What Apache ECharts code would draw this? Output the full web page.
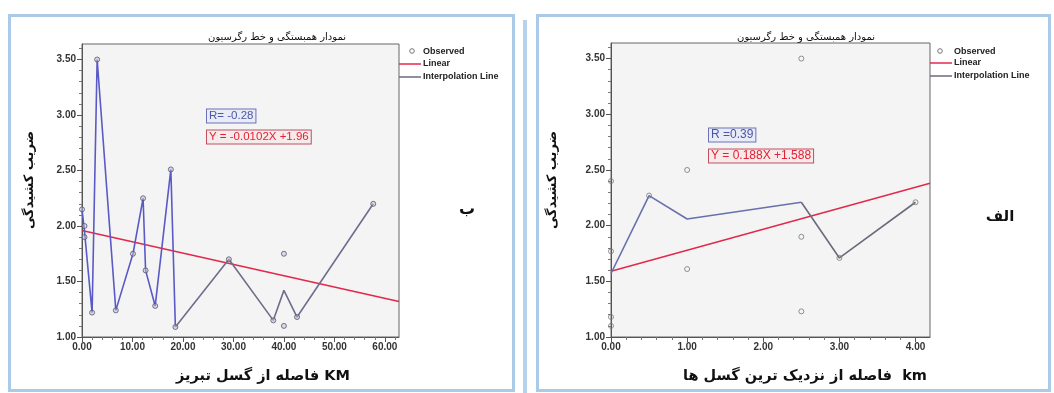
<!DOCTYPE html>
<html><head><meta charset="utf-8">
<script src="https://cdn.jsdelivr.net/npm/echarts@6/dist/echarts.min.js"></script>
<style>html,body{margin:0;padding:0;background:#fff}#c{width:1054px;height:393px}</style>
</head><body><div id="c"></div>
<script>
// ---- texts ----
const chartTitle = 'نمودار همبستگی و خط رگرسیون';
const yAxisName = 'ضریب کشیدگی';
const leftXAxisName = 'فاصله از گسل تبریز KM';
const rightXAxisName = 'فاصله از نزدیک ترین گسل ها  km';
const legendNames = ['Observed', 'Linear', 'Interpolation Line'];
const leftPanelLabel = 'ب';
const rightPanelLabel = 'الف';
const leftR = 'R= -0.28';
const leftEq = 'Y = -0.0102X +1.96';
const rightR = 'R =0.39';
const rightEq = 'Y = 0.188X +1.588';

// ---- ticks ----
const leftXTicks = [0, 10, 20, 30, 40, 50, 60];
const rightXTicks = [0, 1, 2, 3, 4];
const yTicks = [1.0, 1.5, 2.0, 2.5, 3.0, 3.5];

// ---- left chart (distance from Tabriz fault, KM) ----
const leftObsX = [0, 0.5, 0.5, 2.0, 3.0, 6.7, 10.1, 12.1, 12.6, 14.5, 17.6, 18.5, 29.1, 37.9, 40.0, 40.0, 42.6, 57.7];
const leftObsY = [2.15, 2.00, 1.90, 1.22, 3.50, 1.24, 1.75, 2.25, 1.60, 1.28, 2.51, 1.09, 1.70, 1.15, 1.75, 1.10, 1.18, 2.20];
const leftLineX = [0, 0.5, 2.0, 3.0, 6.7, 10.1, 12.1, 12.6, 14.5, 17.6, 18.5, 29.1, 37.9, 40.0, 42.6, 57.7];
const leftLineY = [2.15, 1.95, 1.22, 3.50, 1.24, 1.75, 2.25, 1.60, 1.28, 2.51, 1.09, 1.70, 1.15, 1.42, 1.18, 2.20];
const leftLineSplitX = 18.5;   // colour change of the interpolation line
const leftFitX = [0, 62.8];
const leftFitY = [1.96, 1.32];

// ---- right chart (distance from nearest faults, km) ----
const rightObsX = [0, 0, 0, 0, 0.5, 1, 1, 2.5, 2.5, 2.5, 3, 4];
const rightObsY = [2.40, 1.77, 1.18, 1.10, 2.27, 2.50, 1.61, 3.50, 1.90, 1.23, 1.71, 2.21];
const rightLineX = [0, 0.5, 1, 2.5, 3, 4];
const rightLineY = [1.57, 2.27, 2.06, 2.21, 1.71, 2.21];
const rightLineSplitX = 2.5;
const rightFitX = [0, 4.19];
const rightFitY = [1.59, 2.38];

const zip = (a, b) => a.map((v, i) => [v, b[i]]);
const upTo = (pts, s) => pts.filter(p => p[0] <= s);
const from = (pts, s) => pts.filter(p => p[0] >= s);
const fmt = v => Number(v).toFixed(2);

const FA = '"DejaVu Sans", sans-serif';
const LAT = '"Liberation Sans", Arial, sans-serif';
const RED = '#e2284c';

function xAxisCfg(gi, max, interval, ticks) {
  return {
    type: 'value', gridIndex: gi, min: 0, max: max, interval: interval,
    axisLine: { show: true, onZero: false, lineStyle: { color: '#555', width: 1 } },
    axisTick: { show: true, length: 5, customValues: ticks, lineStyle: { color: '#555' } },
    minorTick: { show: true, splitNumber: 5, length: 3, lineStyle: { color: '#777' } },
    axisLabel: { customValues: ticks, formatter: fmt, margin: 5, color: '#333',
      fontFamily: LAT, fontWeight: 'bold', fontSize: 10 },
    splitLine: { show: false }
  };
}
function yAxisCfg(gi) {
  return {
    type: 'value', gridIndex: gi, min: 1, max: 3.64, interval: 0.5,
    axisLine: { show: true, onZero: false, lineStyle: { color: '#555', width: 1 } },
    axisTick: { show: true, length: 5, customValues: yTicks, lineStyle: { color: '#555' } },
    minorTick: { show: true, splitNumber: 5, length: 3, lineStyle: { color: '#777' } },
    axisLabel: { customValues: yTicks, formatter: fmt, margin: 6, color: '#333',
      fontFamily: LAT, fontWeight: 'bold', fontSize: 10 },
    splitLine: { show: false }
  };
}

function txt(x, y, text, font, fill, extra) {
  return Object.assign({ type: 'text', x: x, y: y, z: 10,
    style: { text: text, font: font, fill: fill, align: 'center', verticalAlign: 'middle',
      textAlign: 'center', textVerticalAlign: 'middle' } }, extra || {});
}
function boxTxt(x, y, text, size, fill, border, bg) {
  return { type: 'text', x: x, y: y, z: 10,
    style: { text: text, font: size + 'px ' + LAT, fill: fill, align: 'left', verticalAlign: 'middle',
      textAlign: 'left', textVerticalAlign: 'middle',
      backgroundColor: bg, borderColor: border, borderWidth: 1, padding: [1, 2, 0, 2] } };
}
function legend(cx, tx, y0, y1, y2, lineX1) {
  const t = (y, s) => ({ type: 'text', z: 10, x: tx, y: y, style: { text: s, font: 'bold 9px ' + LAT, fill: '#222',
    align: 'left', verticalAlign: 'middle', textAlign: 'left', textVerticalAlign: 'middle' } });
  return [
    { type: 'circle', z: 10, shape: { cx: cx, cy: y0, r: 2.3 }, style: { fill: 'none', stroke: '#777', lineWidth: 1 } },
    { type: 'line', z: 10, shape: { x1: lineX1, y1: y1, x2: tx - 2, y2: y1 }, style: { stroke: RED, lineWidth: 1.5 } },
    { type: 'line', z: 10, shape: { x1: lineX1, y1: y2, x2: tx - 2, y2: y2 }, style: { stroke: '#6a6a80', lineWidth: 1.5 } },
    t(y0 + 1, legendNames[0]), t(y1, legendNames[1]), t(y2, legendNames[2])
  ];
}

const leftLine = zip(leftLineX, leftLineY);
const rightLine = zip(rightLineX, rightLineY);

const chart = echarts.init(document.getElementById('c'), null, { renderer: 'canvas' });
const option = {
  animation: false,
  backgroundColor: '#fff',
  grid: [
    { left: 82, top: 44, width: 317, height: 293, show: true, backgroundColor: '#f4f4f4', borderColor: '#666', borderWidth: 1 },
    { left: 611, top: 43, width: 319, height: 294, show: true, backgroundColor: '#f4f4f4', borderColor: '#666', borderWidth: 1 }
  ],
  xAxis: [xAxisCfg(0, 62.8, 10, leftXTicks), xAxisCfg(1, 4.19, 1, rightXTicks)],
  yAxis: [yAxisCfg(0), yAxisCfg(1)],
  series: [
    { name: 'Linear', type: 'line', xAxisIndex: 0, yAxisIndex: 0, data: zip(leftFitX, leftFitY),
      symbol: 'none', lineStyle: { color: RED, width: 1.6 }, z: 3 },
    { name: 'Interpolation Line', type: 'line', xAxisIndex: 0, yAxisIndex: 0, data: upTo(leftLine, leftLineSplitX),
      symbol: 'none', lineStyle: { color: '#5a5ac6', width: 1.6 }, z: 4 },
    { name: 'Interpolation Line', type: 'line', xAxisIndex: 0, yAxisIndex: 0, data: from(leftLine, leftLineSplitX),
      symbol: 'none', lineStyle: { color: '#6e6e8c', width: 1.6 }, z: 4 },
    { name: 'Observed', type: 'scatter', xAxisIndex: 0, yAxisIndex: 0, data: zip(leftObsX, leftObsY),
      symbol: 'circle', symbolSize: 5, itemStyle: { color: 'rgba(190,190,210,0.6)', borderColor: '#555570', borderWidth: 1 }, z: 5 },
    { name: 'Linear', type: 'line', xAxisIndex: 1, yAxisIndex: 1, data: zip(rightFitX, rightFitY),
      symbol: 'none', lineStyle: { color: RED, width: 1.6 }, z: 3 },
    { name: 'Interpolation Line', type: 'line', xAxisIndex: 1, yAxisIndex: 1, data: upTo(rightLine, rightLineSplitX),
      symbol: 'none', lineStyle: { color: '#6870ad', width: 1.6 }, z: 4 },
    { name: 'Interpolation Line', type: 'line', xAxisIndex: 1, yAxisIndex: 1, data: from(rightLine, rightLineSplitX),
      symbol: 'none', lineStyle: { color: '#6b6b7a', width: 1.6 }, z: 4 },
    { name: 'Observed', type: 'scatter', xAxisIndex: 1, yAxisIndex: 1, data: zip(rightObsX, rightObsY),
      symbol: 'circle', symbolSize: 5, itemStyle: { color: 'rgba(255,255,255,0)', borderColor: '#777', borderWidth: 1 }, z: 5 }
  ],
  graphic: [].concat(
    [
      { type: 'rect', z: 1, shape: { x: 9.5, y: 15.5, width: 504, height: 375 }, style: { fill: 'none', stroke: '#a9cbe8', lineWidth: 3 } },
      { type: 'rect', z: 1, shape: { x: 537.5, y: 15.5, width: 512, height: 375 }, style: { fill: 'none', stroke: '#a9cbe8', lineWidth: 3 } },
      { type: 'rect', z: 1, shape: { x: 523, y: 20, width: 4, height: 373 }, style: { fill: '#b7d3ec' } },
      txt(277, 37, chartTitle, '10px ' + FA, '#111'),
      txt(806, 37, chartTitle, '10px ' + FA, '#111'),
      txt(30, 180, yAxisName, 'bold 13px ' + FA, '#111', { rotation: Math.PI / 2 }),
      txt(553, 180, yAxisName, 'bold 13px ' + FA, '#111', { rotation: Math.PI / 2 }),
      txt(263, 376, leftXAxisName, 'bold 14.5px ' + FA, '#111'),
      txt(805, 376, rightXAxisName, 'bold 14.5px ' + FA, '#111'),
      txt(467, 210, leftPanelLabel, 'bold 16px ' + FA, '#111'),
      txt(1000, 217, rightPanelLabel, 'bold 15px ' + FA, '#111'),
      boxTxt(207, 116, leftR, 11.5, '#4a56a8', '#6b73b5', '#e9ebf6'),
      boxTxt(207, 137, leftEq, 11.5, '#e42034', '#c05060', '#f6eaea'),
      boxTxt(709, 135, rightR, 12, '#4a56a8', '#6b73b5', '#e9ebf6'),
      boxTxt(709, 156, rightEq, 12, '#e42034', '#c05060', '#f6eaea')
    ],
    legend(412, 423, 51, 64, 77, 399),
    legend(940, 954, 51, 63, 76, 930)
  )
};
chart.setOption(option);
</script>
</body></html>
